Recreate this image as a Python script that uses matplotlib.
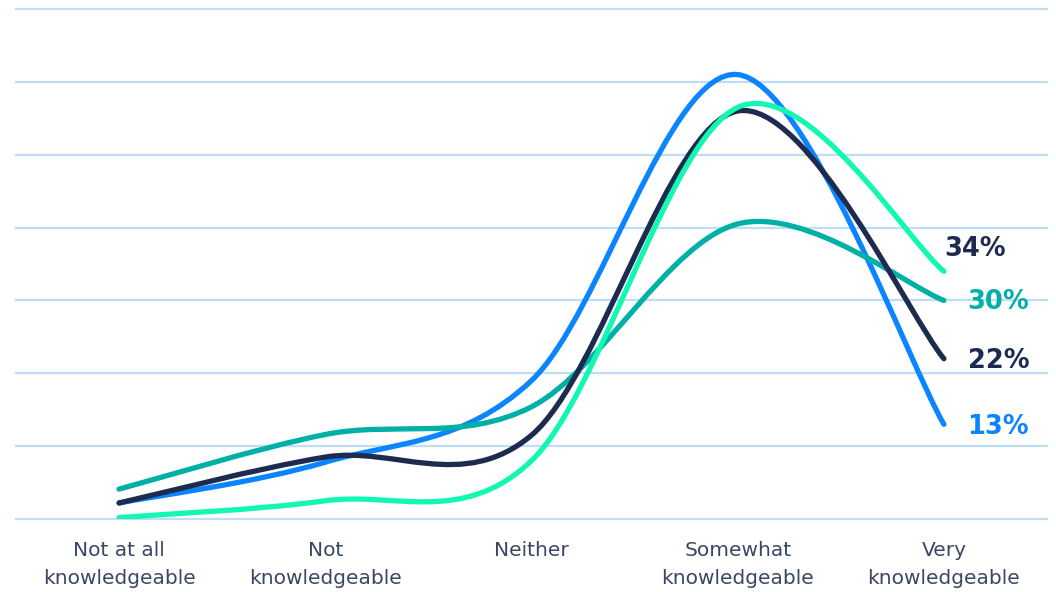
import matplotlib
matplotlib.use("Agg")
import matplotlib.pyplot as plt
from matplotlib.path import Path
from matplotlib.patches import PathPatch

categories = ["Not at all\nknowledgeable", "Not\nknowledgeable", "Neither",
              "Somewhat\nknowledgeable", "Very\nknowledgeable"]

blue_vals = [2.2, 7.8, 19.0, 61.0, 13.0]
teal_vals = [4.1, 11.6, 15.4, 40.5, 30.0]
navy_vals = [2.2, 8.5, 11.5, 56.0, 22.0]
mint_vals = [0.2, 2.5, 8.0, 56.5, 34.0]

end_labels = {"blue": "13%", "teal": "30%", "navy": "22%", "mint": "34%"}

BLUE = "#0A84FF"
TEAL = "#00B0A6"
NAVY = "#1C2B4F"
MINT = "#12F7B2"
GRID = "#BFDDF6"
TEXT = "#3B4663"


def smooth_path(xs, ys):
    """Smoothed line through the points as cubic Bezier segments."""
    pts = list(zip(xs, ys))
    n = len(pts)
    verts = [pts[0]]
    codes = [Path.MOVETO]
    for i in range(n - 1):
        p0 = pts[i - 1] if i > 0 else pts[i]
        p1 = pts[i]
        p2 = pts[i + 1]
        p3 = pts[i + 2] if i + 2 < n else pts[i + 1]
        c1 = (p1[0] + (p2[0] - p0[0]) / 6, p1[1] + (p2[1] - p0[1]) / 6)
        c2 = (p2[0] - (p3[0] - p1[0]) / 6, p2[1] - (p3[1] - p1[1]) / 6)
        verts += [c1, c2, p2]
        codes += [Path.CURVE4] * 3
    return Path(verts, codes)


fig = plt.figure(figsize=(10.56, 5.92), dpi=100)
ax = fig.add_axes([16 / 1056, 1 - 519 / 592, (1047 - 16) / 1056, (519 - 9) / 592])

x = list(range(len(categories)))
series = [("blue", blue_vals, BLUE), ("teal", teal_vals, TEAL),
          ("navy", navy_vals, NAVY), ("mint", mint_vals, MINT)]
for name, vals, col in series:
    patch = PathPatch(smooth_path(x, vals), facecolor="none", edgecolor=col,
                      lw=3.8, capstyle="round", joinstyle="round", zorder=3)
    ax.add_patch(patch)

# value labels at the right-hand end of each line
label_style = dict(fontsize=18.5, fontweight="bold", va="center", ha="left",
                   textcoords="offset points", annotation_clip=False)
ax.annotate(end_labels["mint"], (x[-1], mint_vals[-1]), xytext=(0, 16),
            color=NAVY, **label_style)
ax.annotate(end_labels["teal"], (x[-1], teal_vals[-1]), xytext=(17, -1),
            color=TEAL, **label_style)
ax.annotate(end_labels["navy"], (x[-1], navy_vals[-1]), xytext=(17, -1.5),
            color=NAVY, **label_style)
ax.annotate(end_labels["blue"], (x[-1], blue_vals[-1]), xytext=(17, -2),
            color=BLUE, **label_style)

ax.set_xlim(-0.5, len(categories) - 0.5)
ax.set_ylim(0, 70)
ax.set_yticks(range(0, 71, 10))
ax.yaxis.grid(True, color=GRID, lw=1.6)
for gl in ax.get_ygridlines():
    gl.set_clip_on(False)
ax.set_axisbelow(True)
ax.tick_params(axis="y", left=False, labelleft=False)
ax.set_xticks(x)
ax.set_xticklabels(categories, fontsize=14.5, color=TEXT, linespacing=1.6)
ax.tick_params(axis="x", bottom=False, pad=12)
for s in ax.spines.values():
    s.set_visible(False)

fig.savefig("out.png", dpi=100, facecolor="white")
